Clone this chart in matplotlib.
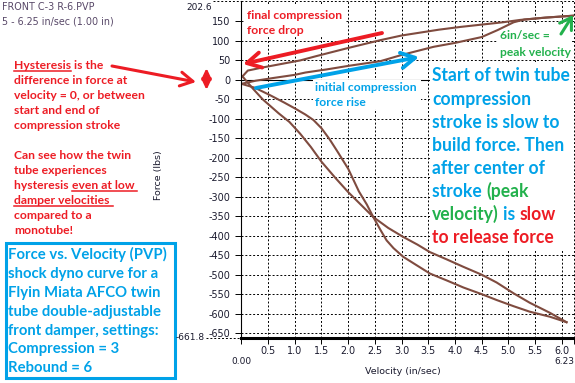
import matplotlib
matplotlib.use("Agg")
import matplotlib.pyplot as plt
from matplotlib.transforms import Affine2D
from matplotlib.patches import Rectangle, FancyArrowPatch
from matplotlib.lines import Line2D

W, H, DPI = 575, 383, 100

# ---------------- data ----------------
comp_rise_vel = [0.0, 0.27, 0.6, 1.0, 1.2, 1.6, 2.0, 2.6, 3.0, 3.6, 4.0, 4.5, 4.8, 5.1, 5.3, 5.7, 6.23]
comp_rise_force = [-10, -2, 5, 13, 19, 27, 36, 48, 64, 85, 95, 110, 128, 148, 155, 160, 165]

comp_drop_vel = [6.23, 5.7, 5.22, 4.9, 4.5, 4.1, 3.7, 3.0, 2.6, 2.0, 1.4, 1.1, 0.4, 0.12, 0.02]
comp_drop_force = [165, 160, 154, 148, 142, 136, 129, 114, 102, 82, 61, 50, 32, 24, 9]

reb_a_vel = [0.02, 0.2, 0.4, 0.7, 0.9, 1.1, 1.3, 1.5, 1.75, 2.0, 2.25, 2.47, 2.75, 3.03, 3.3,
             3.53, 3.85, 4.16, 4.5, 4.78, 5.1, 5.4, 5.78, 6.09]
reb_a_force = [9, -20, -50, -86, -108, -138, -172, -210, -250, -288, -322, -352, -380, -403, -423,
               -442, -461, -480, -500, -520, -548, -572, -598, -622]

reb_b_vel = [0.0, 0.25, 0.52, 0.8, 1.0, 1.2, 1.35, 1.5, 1.65, 1.8, 2.0, 2.2, 2.35, 2.47, 2.6, 2.72,
             2.85, 3.03, 3.25, 3.53, 3.85, 4.16, 4.5, 4.78, 5.1, 5.4, 5.78, 6.09]
reb_b_force = [-10, -20, -38, -58, -73, -89, -103, -124, -152, -184, -228, -286, -320, -352, -384,
               -412, -432, -454, -473, -497, -515, -533, -550, -565, -581, -595, -608, -622]

vel_range = (0.0, 6.23)
force_range = (-661.8, 202.6)
vel_ticks = [0.5, 1.0, 1.5, 2.0, 2.5, 3.0, 3.5, 4.0, 4.5, 5.0, 5.5, 6.0]
vel_tick_labels = ["0.5", "1.0", "1.5", "2.0", "2.5", "3.0", "3.5", "4.0", "4.5", "5.0", "5.5", "6.0"]
force_ticks = [150, 100, 50, 0, -50, -100, -150, -200, -250, -300, -350, -400,
               -450, -500, -550, -600, -650]
force_tick_labels = ["150", "100", "50", "0", "-50", "-100", "-150", "-200", "-250", "-300",
                     "-350", "-400", "-450", "-500", "-550", "-600", "-650"]
range_labels = ["202.6", "-661.8", "0.00", "6.23"]
x_label = "Velocity (in/sec)"
y_label = "Force (lbs)"
header_lines = ["FRONT C-3 R-6.PVP", "5 - 6.25 in/sec (1.00 in)"]

# ---------------- styling ----------------
RED = "#ed1c24"
BLUE = "#00a2e8"
GREEN = "#22b14c"
BROWN = "#7f4b3f"
HEAD_C = "#584868"
TICK_C = "#1a1a2e"
ANN_FONT = "Lato"
TICK_FONT = "DejaVu Sans"

fig = plt.figure(figsize=(W / DPI, H / DPI), dpi=DPI)
fig.patch.set_facecolor("white")
PX = Affine2D().scale(1, -1).translate(0, H)  # pixel coords, origin top-left
renderer = fig.canvas.get_renderer()


def measure(s, size, family, weight="normal"):
    t = fig.text(0, 0, s, fontsize=size, family=family, fontweight=weight)
    w = t.get_window_extent(renderer).width
    t.remove()
    return w


def fit(s, target_px, family, weight="normal"):
    return 20.0 * target_px / measure(s, 20.0, family, weight)


# ---------------- axes ----------------
L, R, T, B = 241.4, 574.0, 1.0, 337.7
ax = fig.add_axes([L / W, 1 - B / H, (R - L) / W, (B - T) / H])
ax.set_xlim(*vel_range)
ax.set_ylim(*force_range)
ax.set_facecolor("white")

tick_size = fit("-100", 22.0, TICK_FONT)
ax.set_xticks(vel_ticks)
ax.set_xticklabels(vel_tick_labels)
ax.set_xticks([vel_range[0], vel_range[1]], minor=True)
ax.set_yticks(force_ticks)
ax.set_yticklabels(force_tick_labels)
for lab in ax.get_xticklabels() + ax.get_yticklabels():
    lab.set_family(TICK_FONT)
    lab.set_fontsize(tick_size)
    lab.set_color(TICK_C)
ax.tick_params(axis="both", which="both", direction="out", length=4.5, width=0.7, color="black")
ax.tick_params(axis="x", pad=1.4)
ax.tick_params(axis="y", pad=3.6)

ax.grid(True, color="black", linestyle=(0, (2, 2)), linewidth=0.7)
ax.set_axisbelow(True)
for side in ("top", "right"):
    ax.spines[side].set_visible(False)
ax.spines["left"].set_linewidth(0.8)
ax.spines["bottom"].set_linewidth(2.2)
ax.axhline(0, color="black", lw=0.8, zorder=1)
ax.axhline(force_range[1], color="black", lw=0.7, linestyle=(0, (2, 2)), clip_on=False, zorder=2.6)
ax.axvline(vel_range[1], color="black", lw=0.7, linestyle=(0, (2, 2)), clip_on=False, zorder=2.6)

# curves
for v, f in ((comp_rise_vel, comp_rise_force), (comp_drop_vel, comp_drop_force),
             (reb_a_vel, reb_a_force), (reb_b_vel, reb_b_force)):
    ax.plot(v, f, color=BROWN, lw=1.5, zorder=2, solid_joinstyle="round")

# white boxes behind annotations inside the plot area
for (x0, y0, x1, y1) in [(245, 4, 346, 37), (313, 80, 421, 109), (498, 24, 572, 59), (430, 62, 575, 251)]:
    ax.add_patch(Rectangle((x0, y0), x1 - x0, y1 - y0, transform=PX, facecolor="white",
                           edgecolor="none", clip_on=False, zorder=1.5))

# range labels / leader dashes
rl_size = tick_size * 0.93
fig.text(212, 7, range_labels[0], transform=PX, ha="right", va="center", fontsize=rl_size,
         family=TICK_FONT, color=TICK_C)
fig.add_artist(Line2D([213, L], [1, 1], transform=PX, color="black", lw=0.7, linestyle=(0, (2, 2))))
fig.text(205, 337.5, range_labels[1], transform=PX, ha="right", va="center", fontsize=rl_size,
         family=TICK_FONT, color=TICK_C, zorder=6)
fig.add_artist(Line2D([206, L], [337.7, 337.7], transform=PX, color="black", lw=0.7, linestyle=(0, (2, 2))))
fig.text(241.7, 361, range_labels[2], transform=PX, ha="center", va="center", fontsize=rl_size,
         family=TICK_FONT, color=TICK_C)
fig.text(564, 361.5, range_labels[3], transform=PX, ha="center", va="center", fontsize=rl_size,
         family=TICK_FONT, color=TICK_C)

lab_size = fit(x_label, 75.0, TICK_FONT)
fig.text(403, 371, x_label, transform=PX, ha="center", va="center", fontsize=lab_size,
         family=TICK_FONT, color=TICK_C)
fig.text(158, 175, y_label, transform=PX, ha="center", va="center", rotation=90,
         fontsize=lab_size, family=TICK_FONT, color=TICK_C)

# header
head_size = fit(header_lines[1], 113.0, TICK_FONT)
fig.text(1.5, 7, header_lines[0], transform=PX, ha="left", va="center", fontsize=head_size,
         family=TICK_FONT, color=HEAD_C)
fig.text(1.5, 21, header_lines[1], transform=PX, ha="left", va="center", fontsize=head_size,
         family=TICK_FONT, color=HEAD_C)


# ---------------- annotation text helpers ----------------
def put_line(x, yc, segs, size, family=ANN_FONT, weight="bold", z=6):
    em = size * DPI / 72.0
    yb = yc + 0.36 * em
    prefix = ""
    for seg in segs:
        s, c = seg[0], seg[1]
        ul = len(seg) > 2 and seg[2]
        sd = s.lstrip()
        if prefix:
            off = measure(prefix + s, size, family, weight) - measure(sd, size, family, weight)
        else:
            off = 0.0
        fig.text(x + off, yb, sd, transform=PX, color=c, fontsize=size, family=family,
                 fontweight=weight, ha="left", va="baseline", zorder=z)
        if ul:
            w = measure(sd + "|", size, family, weight) - measure("|", size, family, weight)
            fig.add_artist(Line2D([x + off, x + off + w], [yb + 0.12 * em] * 2, transform=PX,
                                  color=c, lw=1.1, zorder=z))
        prefix += s


def put_block(x, ycs, lines, size):
    for yc, segs in zip(ycs, lines):
        put_line(x, yc, segs, size)


# left red explanation
left_lines = [
    [("Hysteresis", RED, True), (" is the", RED)],
    [("difference in force at", RED)],
    [("velocity = 0, or between", RED)],
    [("start and end of", RED)],
    [("compression stroke", RED)],
    [("Can see how the twin", RED)],
    [("tube experiences", RED)],
    [("hysteresis ", RED), ("even at low ", RED, True)],
    [("damper velocities ", RED, True)],
    [("compared to a", RED)],
    [("monotube!", RED)],
]
left_y = [65, 80, 95, 110, 125, 155, 170, 185, 200, 215, 230]
left_size = fit("velocity = 0, or between", 131.0, ANN_FONT, "bold")
put_block(14, left_y, left_lines, left_size)

# blue description box
box_lines = ["Force vs. Velocity (PVP)", "shock dyno curve for a", "Flyin Miata AFCO twin",
             "tube double-adjustable", "front damper, settings:", "Compression = 3", "Rebound = 6"]
box_y = [254, 272.8, 291.6, 310.4, 329.2, 348, 366.8]
box_size = fit(box_lines[0], 158.0, ANN_FONT, "bold")
put_block(8.3, box_y, [[(s, BLUE)] for s in box_lines], box_size)
fig.add_artist(Rectangle((5.5, 243.2), 169, 134.6, transform=PX, facecolor="none",
                         edgecolor=BLUE, lw=2.2, zorder=5))

# right explanation
right_lines = [
    [("Start of twin tube", BLUE)],
    [("compression", BLUE)],
    [("stroke is slow to", BLUE)],
    [("build force. Then", BLUE)],
    [("after center of", BLUE)],
    [("stroke ", BLUE), ("(peak", GREEN)],
    [("velocity)", GREEN), (" is ", BLUE), ("slow", RED)],
    [("to release force", RED)],
]
right_y = [75, 98.2, 121.4, 144.4, 167.4, 190.4, 213.4, 236.6]
right_size = fit("Start of twin tube", 138.0, ANN_FONT, "bold")
put_block(432, right_y, right_lines, right_size)

# in-plot labels
drop_size = fit("final compression", 95.0, ANN_FONT, "bold")
put_block(246.7, [15, 29.5], [[("final compression", RED)], [("force drop", RED)]], drop_size)
rise_size = fit("initial compression", 101.5, ANN_FONT, "bold")
put_block(315, [86.7, 101.7], [[("initial compression", BLUE)], [("force rise", BLUE)]], rise_size)
peak_size = fit("peak velocity", 71.0, ANN_FONT, "bold")
put_block(500, [35, 51.7], [[("6in/sec =", GREEN)], [("peak velocity", GREEN)]], peak_size)


# ---------------- arrows ----------------
def arrow(p0, p1, color, lw, style):
    fig.add_artist(FancyArrowPatch(p0, p1, transform=PX, arrowstyle=style, mutation_scale=10,
                                   color=color, lw=lw, shrinkA=0, shrinkB=0, zorder=7,
                                   capstyle="round", joinstyle="round"))


arrow((382, 33), (243, 64), RED, 2.8, "->,head_length=1.0,head_width=0.55")
arrow((256, 88), (419, 57), BLUE, 2.8, "->,head_length=1.0,head_width=0.55")
arrow((112, 66), (196, 82), RED, 2.2, "->,head_length=0.9,head_width=0.5")
arrow((561, 34), (573, 15), GREEN, 2.2, "->,head_length=0.8,head_width=0.5")
arrow((206.5, 90), (206.5, 68), RED, 2.0, "<|-|>,head_length=0.6,head_width=0.28")

fig.savefig("out.png", dpi=DPI, facecolor="white")
